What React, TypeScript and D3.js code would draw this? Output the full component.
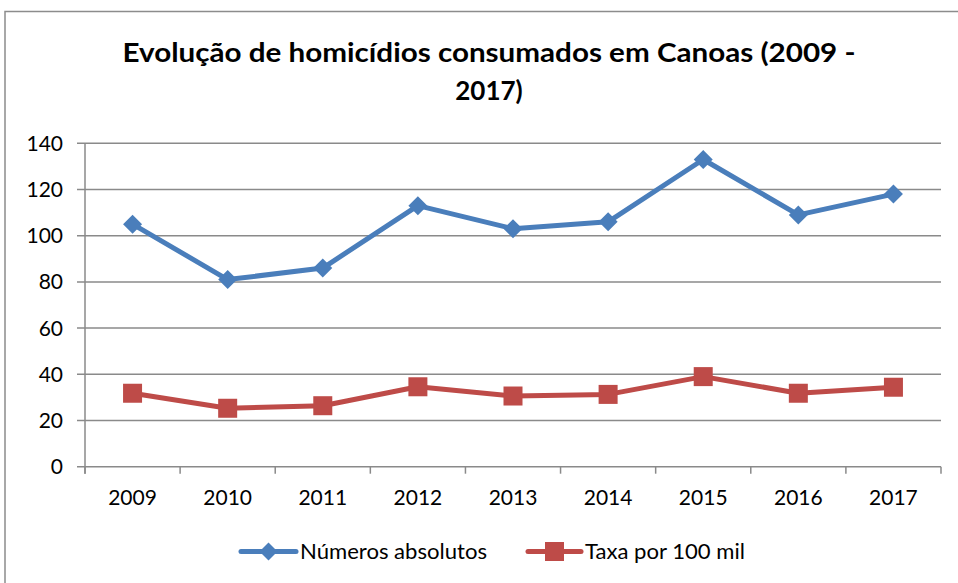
import React from "react";
import * as d3 from "d3";

const years = ["2009", "2010", "2011", "2012", "2013", "2014", "2015", "2016", "2017"];
const absolutos = [105, 81, 86, 113, 103, 106, 133, 109, 118];
const taxa = [31.8, 25.3, 26.4, 34.6, 30.6, 31.3, 39.0, 31.8, 34.4];
const yTicks = [0, 20, 40, 60, 80, 100, 120, 140];
const seriesNames = ["Números absolutos", "Taxa por 100 mil"];
const titleLines = ["Evolução de homicídios consumados em Canoas (2009 -", "2017)"];

const W = 958;
const H = 583;
const left = 85;
const right = 941;
const top = 143.3;
const bottom = 466.7;
const BLUE = "#4A7EBB";
const RED = "#BE4B48";
const GRID = "#8A8A8A";
const FONT = "Lato, 'Open Sans', sans-serif";

export default function App() {
  const x = d3.scaleBand<string>().domain(years).range([left, right]);
  const y = d3.scaleLinear().domain([0, 140]).range([bottom, top]);
  const cx = (d: string) => (x(d) as number) + x.bandwidth() / 2;
  const line = d3
    .line<number>()
    .x((_, i) => cx(years[i]))
    .y((v) => y(v));
  const diamond = (px: number, py: number, r: number) =>
    `M${px},${py - r}L${px + r},${py}L${px},${py + r}L${px - r},${py}Z`;
  const tickXs = years.map((d) => x(d) as number).concat([right]);

  return (
    <svg
      width={W}
      height={H}
      style={{ position: "fixed", left: 0, top: 0, background: "#fff" }}
      fontFamily={FONT}
    >
      <rect x={0} y={0} width={W} height={H} fill="#fff" />
      <rect x={5} y={11.5} width={W + 20} height={H + 20} fill="none" stroke="#8c8c8c" strokeWidth={1.5} />
      <text x={489} y={62} textAnchor="middle" fontSize={26} fontWeight="bold" fill="#000" textLength={733} lengthAdjust="spacingAndGlyphs">
        {titleLines[0]}
      </text>
      <text x={489} y={100} textAnchor="middle" fontSize={26} fontWeight="bold" fill="#000">
        {titleLines[1]}
      </text>
      {yTicks.map((t) => (
        <g key={t}>
          <line x1={77} x2={right} y1={y(t)} y2={y(t)} stroke={GRID} strokeWidth={1.5} />
          <text x={63} y={y(t)} dy="0.36em" textAnchor="end" fontSize={21} fill="#000">
            {t}
          </text>
        </g>
      ))}
      <line x1={left} x2={left} y1={top} y2={bottom + 7} stroke={GRID} strokeWidth={1.5} />
      {tickXs.map((tx, i) => (
        <line key={i} x1={tx} x2={tx} y1={bottom} y2={bottom + 7} stroke={GRID} strokeWidth={1.5} />
      ))}
      {years.map((d) => (
        <text key={d} x={cx(d)} y={505} textAnchor="middle" fontSize={21} fill="#000">
          {d}
        </text>
      ))}
      <path d={line(absolutos) || ""} fill="none" stroke={BLUE} strokeWidth={5} strokeLinejoin="round" />
      {absolutos.map((v, i) => (
        <path key={i} d={diamond(cx(years[i]), y(v), 9.5)} fill={BLUE} />
      ))}
      <path d={line(taxa) || ""} fill="none" stroke={RED} strokeWidth={5} strokeLinejoin="round" />
      {taxa.map((v, i) => (
        <rect key={i} x={cx(years[i]) - 9.5} y={y(v) - 9.5} width={19} height={19} fill={RED} />
      ))}
      <g>
        <line x1={241} x2={296} y1={551.5} y2={551.5} stroke={BLUE} strokeWidth={5} strokeLinecap="round" />
        <path d={diamond(268.5, 551.5, 9)} fill={BLUE} />
        <text x={300} y={559} fontSize={21} fill="#000" textLength={187} lengthAdjust="spacingAndGlyphs">
          {seriesNames[0]}
        </text>
        <line x1={528} x2={581} y1={551.5} y2={551.5} stroke={RED} strokeWidth={5} strokeLinecap="round" />
        <rect x={545} y={542} width={19} height={19} fill={RED} />
        <text x={585} y={559} fontSize={21} fill="#000" textLength={160} lengthAdjust="spacingAndGlyphs">
          {seriesNames[1]}
        </text>
      </g>
    </svg>
  );
}
